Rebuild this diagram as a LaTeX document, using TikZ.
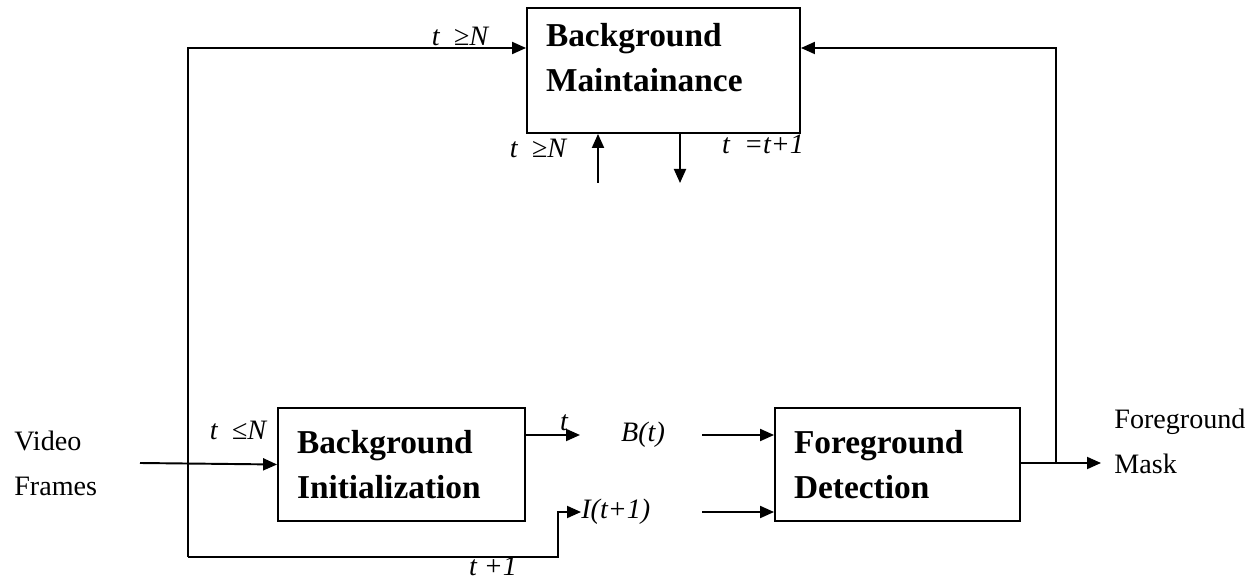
\documentclass[tikz,border=0pt]{standalone}
\usepackage{fontspec}
\setmainfont{Liberation Serif}
\usetikzlibrary{positioning,arrows.meta,calc}

\begin{document}
\begin{tikzpicture}[x=0.02cm, y=-0.02cm,
    every node/.style={font=\fontsize{16}{25.5}\selectfont},
    blockbox/.style={draw, line width=1.1pt, inner xsep=0.38cm, align=left,
      font=\fontsize{19}{25.5}\selectfont\bfseries},
    lbl/.style={font=\fontsize{16}{20}\selectfont\itshape, inner sep=0pt},
    link/.style={line width=1.1pt},
    arr/.style={link, -{Triangle[length=0.28cm, width=0.24cm]}}]
  \useasboundingbox (0,0) rectangle (1256,580);
  % blocks
  \node[blockbox, minimum width=5.46cm, minimum height=2.5cm, text width=4.7cm] (bm) at (663.5,70.5) {Background\\Maintainance\\[-11pt]\mbox{}};
  \node[blockbox, minimum width=4.94cm, minimum height=2.26cm, text width=4.18cm] (bi) at (401.5,464.5) {Background\\Initialization};
  \node[blockbox, minimum width=4.9cm, minimum height=2.26cm, text width=4.14cm] (fd) at (897.5,464.5) {Foreground\\Detection};
  % texts
  \node[align=left, anchor=west, inner sep=0pt] (vf) at (14,463) {Video\\Frames};
  \node[align=left, anchor=west, inner sep=0pt] (fm) at (1114,441) {Foreground\\Mask};
  \node[lbl] (bt) at (643,435) {B(t)};
  \node[lbl, anchor=west] (it) at (581,512) {I(t+1)};
  \node[lbl] (ttop) at (460,36) {t~~≥N};
  \node[lbl] (tup) at (538,148) {t~~≥N};
  \node[lbl] (tinc) at (763,144) {t~~=t+1};
  \node[lbl] (tle) at (238,430) {t~~≤N};
  \node[lbl] (tb) at (564,423) {t};
  \node[lbl] (tnext) at (493,566) {t~+1};
  % loop corners
  \coordinate (lbl0) at (188,557);
  \coordinate (ltl) at (188,48);
  \coordinate (lbr) at (558,557);
  \coordinate (rv) at (1056,463);
  % connectors
  \draw[arr] (140,463) -- (bi.west);
  \draw[arr] (lbl0) -- (ltl) -- (bm.west |- ltl);
  \draw[arr] (lbl0) -- (lbr) -- (lbr |- it) -- (it.west);
  \draw[arr] (bi.east |- bt) -- (580,435);
  \draw[arr] (702,435) -- (fd.west |- bt);
  \draw[arr] (702,512) -- (fd.west |- it);
  \draw[arr] (fd.east |- rv) -- (1101,463);
  \draw[arr] (rv) -- (rv |- ltl) -- (bm.east |- ltl);
  \draw[arr] (598,183) -- (bm.south -| 598,0);
  \draw[arr] (bm.south -| 680,0) -- (680,183);
\end{tikzpicture}
\end{document}
